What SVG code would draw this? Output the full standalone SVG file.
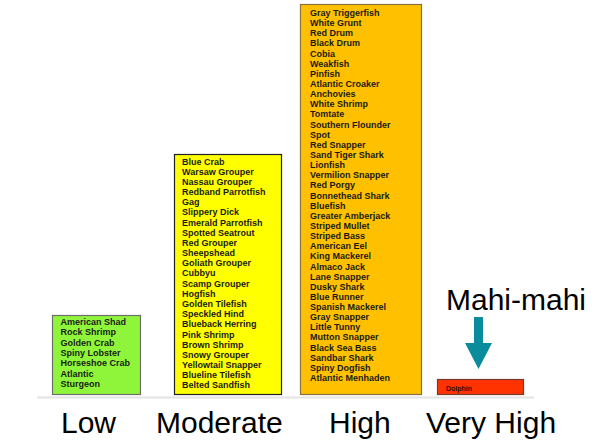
<svg xmlns="http://www.w3.org/2000/svg" width="596" height="441" viewBox="0 0 596 441">
<style>
.sp{font-family:"Liberation Sans",Arial,sans-serif;font-weight:bold;font-size:9px;fill:#1a1a1a}
.lbl{font-family:"Liberation Sans",Arial,sans-serif;font-size:30px;fill:#000}
.bar{stroke-width:1.2}
</style>
<rect width="596" height="441" fill="#fff"/>
<line x1="37" y1="397.5" x2="534" y2="397.5" stroke="#e4e4e4" stroke-width="2"/>
<g id="low">
<rect class="bar" x="52.5" y="315.5" width="88" height="79" fill="#8FF53A" stroke="#6e6e6e"/>
<text class="sp" x="60.5" y="325">
<tspan x="60.5" dy="0">American Shad</tspan>
<tspan x="60.5" dy="10.3">Rock Shrimp</tspan>
<tspan x="60.5" dy="10.3">Golden Crab</tspan>
<tspan x="60.5" dy="10.3">Spiny Lobster</tspan>
<tspan x="60.5" dy="10.3">Horseshoe Crab</tspan>
<tspan x="60.5" dy="10.3">Atlantic</tspan>
<tspan x="60.5" dy="10.3">Sturgeon</tspan>
</text>
</g>
<g id="moderate">
<rect class="bar" x="174.5" y="154.5" width="107" height="240" fill="#FFFF00" stroke="#222"/>
<text class="sp" x="182" y="164.5">
<tspan x="182" dy="0">Blue Crab</tspan>
<tspan x="182" dy="10.18">Warsaw Grouper</tspan>
<tspan x="182" dy="10.18">Nassau Grouper</tspan>
<tspan x="182" dy="10.18">Redband Parrotfish</tspan>
<tspan x="182" dy="10.18">Gag</tspan>
<tspan x="182" dy="10.18">Slippery Dick</tspan>
<tspan x="182" dy="10.18">Emerald Parrotfish</tspan>
<tspan x="182" dy="10.18">Spotted Seatrout</tspan>
<tspan x="182" dy="10.18">Red Grouper</tspan>
<tspan x="182" dy="10.18">Sheepshead</tspan>
<tspan x="182" dy="10.18">Goliath Grouper</tspan>
<tspan x="182" dy="10.18">Cubbyu</tspan>
<tspan x="182" dy="10.18">Scamp Grouper</tspan>
<tspan x="182" dy="10.18">Hogfish</tspan>
<tspan x="182" dy="10.18">Golden Tilefish</tspan>
<tspan x="182" dy="10.18">Speckled Hind</tspan>
<tspan x="182" dy="10.18">Blueback Herring</tspan>
<tspan x="182" dy="10.18">Pink Shrimp</tspan>
<tspan x="182" dy="10.18">Brown Shrimp</tspan>
<tspan x="182" dy="10.18">Snowy Grouper</tspan>
<tspan x="182" dy="10.18">Yellowtail Snapper</tspan>
<tspan x="182" dy="10.18">Blueline Tilefish</tspan>
<tspan x="182" dy="10.18">Belted Sandfish</tspan>
</text>
</g>
<g id="high">
<rect class="bar" x="300.5" y="4.5" width="121" height="390" fill="#FFC000" stroke="#8a7040"/>
<text class="sp" x="310" y="16">
<tspan x="310" dy="0">Gray Triggerfish</tspan>
<tspan x="310" dy="10.14">White Grunt</tspan>
<tspan x="310" dy="10.14">Red Drum</tspan>
<tspan x="310" dy="10.14">Black Drum</tspan>
<tspan x="310" dy="10.14">Cobia</tspan>
<tspan x="310" dy="10.14">Weakfish</tspan>
<tspan x="310" dy="10.14">Pinfish</tspan>
<tspan x="310" dy="10.14">Atlantic Croaker</tspan>
<tspan x="310" dy="10.14">Anchovies</tspan>
<tspan x="310" dy="10.14">White Shrimp</tspan>
<tspan x="310" dy="10.14">Tomtate</tspan>
<tspan x="310" dy="10.14">Southern  Flounder</tspan>
<tspan x="310" dy="10.14">Spot</tspan>
<tspan x="310" dy="10.14">Red Snapper</tspan>
<tspan x="310" dy="10.14">Sand Tiger Shark</tspan>
<tspan x="310" dy="10.14">Lionfish</tspan>
<tspan x="310" dy="10.14">Vermilion  Snapper</tspan>
<tspan x="310" dy="10.14">Red Porgy</tspan>
<tspan x="310" dy="10.14">Bonnethead  Shark</tspan>
<tspan x="310" dy="10.14">Bluefish</tspan>
<tspan x="310" dy="10.14">Greater Amberjack</tspan>
<tspan x="310" dy="10.14">Striped  Mullet</tspan>
<tspan x="310" dy="10.14">Striped  Bass</tspan>
<tspan x="310" dy="10.14">American Eel</tspan>
<tspan x="310" dy="10.14">King Mackerel</tspan>
<tspan x="310" dy="10.14">Almaco Jack</tspan>
<tspan x="310" dy="10.14">Lane Snapper</tspan>
<tspan x="310" dy="10.14">Dusky Shark</tspan>
<tspan x="310" dy="10.14">Blue Runner</tspan>
<tspan x="310" dy="10.14">Spanish Mackerel</tspan>
<tspan x="310" dy="10.14">Gray Snapper</tspan>
<tspan x="310" dy="10.14">Little Tunny</tspan>
<tspan x="310" dy="10.14">Mutton  Snapper</tspan>
<tspan x="310" dy="10.14">Black Sea Bass</tspan>
<tspan x="310" dy="10.14">Sandbar  Shark</tspan>
<tspan x="310" dy="10.14">Spiny Dogfish</tspan>
<tspan x="310" dy="10.14">Atlantic  Menhaden</tspan>
</text>
</g>
<g id="veryhigh">
<rect class="bar" x="437.5" y="379.5" width="86" height="15" fill="#FF3300" stroke="#7a3a2a"/>
<text x="446" y="390.5" font-family="Liberation Sans, Arial, sans-serif" font-weight="bold" font-size="7" fill="#3a0a00">Dolphin</text>
</g>
<g id="mahi">
<text class="lbl" x="446" y="310" font-size="31">Mahi-mahi</text>
</g>
<g id="connectors">
<polygon points="474,317 483,317 483,343 492,343 478.5,369 465,343 474,343" fill="#0A8C9C"/>
</g>
<g id="labels">
<text class="lbl" x="61" y="433">Low</text>
<text class="lbl" x="156" y="433">Moderate</text>
<text class="lbl" x="329" y="433">High</text>
<text class="lbl" x="426" y="433">Very High</text>
</g>
</svg>
